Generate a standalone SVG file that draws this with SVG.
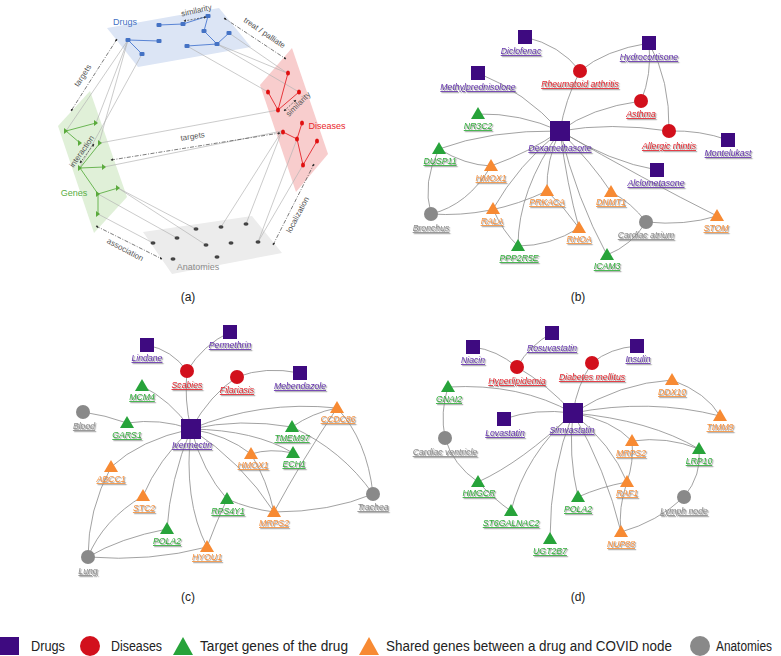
<svg xmlns="http://www.w3.org/2000/svg" width="781" height="656" viewBox="0 0 781 656">
<defs>
<style>
text{font-family:"Liberation Sans",Arial,sans-serif}
.lab{font-size:8.7px;font-style:italic;text-decoration:underline;text-anchor:middle;filter:url(#sh)}
.lp{fill:#6532ad}.lr{fill:#e2222c}.lg{fill:#2fae3a}.lo{fill:#f5913c}.la{fill:#8c8c8c}
.sq{fill:#3e0a80}.ci{fill:#d2101c}.tg{fill:#27a33a}.to{fill:#f78a33}.ga{fill:#898989}
.e{fill:none;stroke:#8a8a8a;stroke-width:0.8}
.gl{stroke:#b4b4b4;stroke-width:0.7;fill:none}
.rel{stroke:#444;stroke-width:0.7;fill:none;stroke-dasharray:4 1.5 1 1.5;marker-start:url(#ah);marker-end:url(#ah)}
.rels{stroke:#444;stroke-width:0.7;fill:none;stroke-dasharray:2 1.3;marker-start:url(#ah);marker-end:url(#ah)}
.rl{font-size:8px;fill:#555;text-anchor:middle}
.pl{font-size:9px;text-anchor:middle}
.cap{font-size:12px;fill:#222;text-anchor:middle}
.leg{font-size:14px;fill:#222}
.be{stroke:#4a78d0;stroke-width:0.9;fill:none}
.re{stroke:#e3262b;stroke-width:0.9;fill:none}
.ge{stroke:#5daf45;stroke-width:0.9;fill:none}
</style>
<marker id="ah" viewBox="0 0 6 6" refX="5" refY="3" markerWidth="4" markerHeight="4" orient="auto-start-reverse"><path d="M0,0L6,3L0,6z" fill="#333"/></marker>
<filter id="sh" x="-10%" y="-30%" width="130%" height="180%"><feDropShadow dx="1.2" dy="1.2" stdDeviation="0.4" flood-color="#777" flood-opacity="0.75"/></filter>
</defs>
<rect width="781" height="656" fill="#fff"/>

<!-- ===== Panel (a) ===== -->
<g id="panel-a">
<polygon points="107,28 219,8 251,47 138,67" fill="#dce5f5"/>
<polygon points="260,85 292,48 328,154 296,192" fill="#f8cdcd"/>
<polygon points="58,126 90,91 127,197 94,233" fill="#e0f0d8"/>
<polygon points="143,232 252,216 282,253 172,274" fill="#ececec"/>
<g id="a-cross-links">
<path class="gl" d="M128,40L66,131M128,40L96,123M128,40L99,143M142,54L80,167M229,33L287,73M217,44L287,73M217,44L299,92M187,46L268,92M278,110L100,143M282,131L104,167M118,188L196,229M118,188L206,245M98,194L177,238M98,214L153,243M282,131L221,227M282,131L246,224M297,139L258,242M303,165L258,242"/>
</g>
<g id="a-drugs">
<path class="be" d="M159,25L183,24L208,16L204,31L217,44L229,33M217,44L187,46M128,40L159,41M128,40L142,54"/>
<g fill="#4472c4">
<rect x="156.5" y="23" width="5" height="4" rx="1"/><rect x="180.5" y="22" width="5" height="4" rx="1"/><rect x="205.5" y="14" width="5" height="4" rx="1"/><rect x="201.5" y="29" width="5" height="4" rx="1"/><rect x="226.5" y="31" width="5" height="4" rx="1"/><rect x="214.5" y="42" width="5" height="4" rx="1"/><rect x="184.5" y="44" width="5" height="4" rx="1"/><rect x="125.5" y="38" width="5" height="4" rx="1"/><rect x="156.5" y="39" width="5" height="4" rx="1"/><rect x="139.5" y="52" width="5" height="4" rx="1"/>
</g>
<text class="pl" x="125" y="25" fill="#4472c4">Drugs</text>
</g>
<g id="a-diseases">
<path class="re" d="M288,73L278,110L268,92M278,110L299,92M283,132L297,139L302,123M297,139L303,165L317,141"/>
<g fill="#e01010">
<ellipse cx="288" cy="73" rx="2" ry="2.5"/><ellipse cx="268" cy="92" rx="2" ry="2.5"/><ellipse cx="299" cy="92" rx="2" ry="2.5"/><ellipse cx="278" cy="110" rx="2" ry="2.5"/><ellipse cx="302" cy="123" rx="2" ry="2.5"/><ellipse cx="283" cy="132" rx="2" ry="2.5"/><ellipse cx="297" cy="139" rx="2" ry="2.5"/><ellipse cx="317" cy="141" rx="2" ry="2.5"/><ellipse cx="303" cy="165" rx="2" ry="2.5"/>
</g>
<text class="pl" x="327" y="129" fill="#e8262a">Diseases</text>
</g>
<g id="a-genes">
<path class="ge" d="M66,131L96,123M66,131L80,143M80,168L100,143M80,168L104,167M80,168L98,194L118,188M98,194L98,214"/>
<g fill="#5aaa3c">
<path d="M64,128l4,3l-4,3z"/><path d="M94,120l4,3l-4,3z"/><path d="M78,140l4,3l-4,3z"/><path d="M98,140l4,3l-4,3z"/><path d="M78,165l4,3l-4,3z"/><path d="M102,164l4,3l-4,3z"/><path d="M96,191l4,3l-4,3z"/><path d="M116,185l4,3l-4,3z"/><path d="M96,211l4,3l-4,3z"/>
</g>
<text class="pl" x="74" y="196" fill="#5aae44">Genes</text>
</g>
<g id="a-anatomies" fill="#444">
<ellipse cx="196" cy="229" rx="2.5" ry="1.8"/><ellipse cx="221" cy="227" rx="2.5" ry="1.8"/><ellipse cx="246" cy="224" rx="2.5" ry="1.8"/><ellipse cx="153" cy="243" rx="2.5" ry="1.8"/><ellipse cx="177" cy="238" rx="2.5" ry="1.8"/><ellipse cx="206" cy="245" rx="2.5" ry="1.8"/><ellipse cx="231" cy="243" rx="2.5" ry="1.8"/><ellipse cx="258" cy="242" rx="2.5" ry="1.8"/><ellipse cx="173" cy="259" rx="2.5" ry="1.8"/><ellipse cx="217" cy="257" rx="2.5" ry="1.8"/>
<text class="pl" x="198" y="270" fill="#8a8a8a">Anatomies</text>
</g>
<g id="a-relations">
<path class="rels" d="M184,21L206,17"/>
<text class="rl" transform="translate(197,13) rotate(-13)">similarity</text>
<path class="rel" d="M224,18L286,59"/>
<text class="rl" transform="translate(263,35) rotate(34)">treat / palliate</text>
<path class="rel" d="M117,39L71,111"/>
<text class="rl" transform="translate(85,77) rotate(-57)">targets</text>
<path class="rels" d="M80,163L94,144"/>
<text class="rl" transform="translate(84,153) rotate(-55)">interaction</text>
<path class="rel" d="M111,160L280,133"/>
<text class="rl" transform="translate(193,139) rotate(-9)">targets</text>
<path class="rels" d="M284,111L296,100"/>
<text class="rl" transform="translate(300,106) rotate(-45)">similarity</text>
<path class="rel" d="M96,226L162,259"/>
<text class="rl" transform="translate(124,252) rotate(28)">association</text>
<path class="rel" d="M273,245L314,164"/>
<text class="rl" transform="translate(300,216) rotate(-62)">localization</text>
</g>
<text class="cap" x="188" y="301">(a)</text>
</g>

<!-- ===== Panel (b) connectors ===== -->
<g id="connectors-b">
<path class="e" d="M525,37Q560,45 580,71"/>
<path class="e" d="M649,43Q605,50 580,71"/>
<path class="e" d="M649,43Q652,75 641,101"/>
<path class="e" d="M649,43Q670,80 669,131"/>
<path class="e" d="M580,71Q565,100 560,131"/>
<path class="e" d="M478,73Q525,92 560,131"/>
<path class="e" d="M641,101Q590,108 560,131"/>
<path class="e" d="M669,131Q610,122 560,131"/>
<path class="e" d="M669,131Q700,130 728,140"/>
<path class="e" d="M478,114Q520,113 560,131"/>
<path class="e" d="M439,149Q490,130 560,131"/>
<path class="e" d="M439,149Q465,165 491,166"/>
<path class="e" d="M439,149Q422,182 431,214"/>
<path class="e" d="M491,166Q530,152 560,131"/>
<path class="e" d="M491,166Q468,205 431,214"/>
<path class="e" d="M560,131Q610,162 657,170"/>
<path class="e" d="M560,131Q645,180 717,216"/>
<path class="e" d="M560,131Q592,163 611,192"/>
<path class="e" d="M560,131Q546,160 547,191"/>
<path class="e" d="M560,131Q518,165 493,209"/>
<path class="e" d="M560,131Q518,190 518,246"/>
<path class="e" d="M560,131Q567,185 579,228"/>
<path class="e" d="M560,131Q577,200 607,255"/>
<path class="e" d="M431,214Q490,218 547,191"/>
<path class="e" d="M493,209Q503,232 518,246"/>
<path class="e" d="M547,191Q565,208 579,228"/>
<path class="e" d="M579,228Q550,246 518,246"/>
<path class="e" d="M611,192Q632,203 646,222"/>
<path class="e" d="M646,222Q685,226 717,216"/>
<path class="e" d="M646,222Q632,245 607,255"/>
</g>
<!-- ===== Panel (b) nodes ===== -->
<g id="b-diclofenac"><rect class="sq" x="518" y="30" width="14" height="14"/><text class="lab lp" x="521" y="54">Diclofenac</text></g>
<g id="b-hydrocortisone"><rect class="sq" x="642" y="36" width="14" height="14"/><text class="lab lp" x="649" y="60">Hydrocortisone</text></g>
<g id="b-rheumatoid"><circle class="ci" cx="580" cy="71" r="7"/><text class="lab lr" x="580" y="87">Rheumatoid arthritis</text></g>
<g id="b-methylprednisolone"><rect class="sq" x="471" y="66" width="14" height="14"/><text class="lab lp" x="478" y="90">Methylprednisolone</text></g>
<g id="b-asthma"><circle class="ci" cx="641" cy="101" r="7"/><text class="lab lr" x="641" y="117">Asthma</text></g>
<g id="b-nr3c2"><path class="tg" d="M478,107L485,119L471,119z"/><text class="lab lg" x="478" y="129">NR3C2</text></g>
<g id="b-dexamethasone"><rect class="sq" x="550" y="121" width="20" height="20"/><text class="lab lp" x="560" y="151">Dexamethasone</text></g>
<g id="b-allergic"><circle class="ci" cx="669" cy="131" r="7"/><text class="lab lr" x="669" y="149">Allergic rhintis</text></g>
<g id="b-montelukast"><rect class="sq" x="721" y="133" width="14" height="14"/><text class="lab lp" x="728" y="156">Montelukast</text></g>
<g id="b-dusp11"><path class="tg" d="M439,142L446,154L432,154z"/><text class="lab lg" x="440" y="164">DUSP11</text></g>
<g id="b-hmox1"><path class="to" d="M491,159L498,171L484,171z"/><text class="lab lo" x="491" y="181">HMOX1</text></g>
<g id="b-alclometasone"><rect class="sq" x="650" y="163" width="14" height="14"/><text class="lab lp" x="656" y="186">Alclometasone</text></g>
<g id="b-prkaca"><path class="to" d="M547,184L554,196L540,196z"/><text class="lab lo" x="547" y="205">PRKACA</text></g>
<g id="b-dnmt1"><path class="to" d="M611,185L618,197L604,197z"/><text class="lab lo" x="611" y="205">DNMT1</text></g>
<g id="b-rala"><path class="to" d="M493,202L500,214L486,214z"/><text class="lab lo" x="492" y="224">RALA</text></g>
<g id="b-bronchus"><circle class="ga" cx="431" cy="214" r="7"/><text class="lab la" x="431" y="231">Bronchus</text></g>
<g id="b-stom"><path class="to" d="M717,209L724,221L710,221z"/><text class="lab lo" x="716" y="231">STOM</text></g>
<g id="b-cardiac-atrium"><circle class="ga" cx="646" cy="222" r="7"/><text class="lab la" x="646" y="238">Cardiac atrium</text></g>
<g id="b-rhoa"><path class="to" d="M579,221L586,233L572,233z"/><text class="lab lo" x="579" y="242">RHOA</text></g>
<g id="b-ppp2r5e"><path class="tg" d="M518,239L525,251L511,251z"/><text class="lab lg" x="519" y="261">PPP2R5E</text></g>
<g id="b-icam3"><path class="tg" d="M607,248L614,260L600,260z"/><text class="lab lg" x="607" y="269">ICAM3</text></g>
<text class="cap" x="578" y="301">(b)</text>

<!-- ===== Panel (c) connectors ===== -->
<g id="connectors-c">
<path class="e" d="M147,345Q172,350 187,371"/>
<path class="e" d="M230,332Q203,345 187,371"/>
<path class="e" d="M187,371Q184,400 191,429"/>
<path class="e" d="M237,377Q210,395 191,429"/>
<path class="e" d="M237,377Q265,366 300,373"/>
<path class="e" d="M142,386Q170,400 191,429"/>
<path class="e" d="M83,412Q105,415 127,423"/>
<path class="e" d="M127,423Q160,418 191,429"/>
<path class="e" d="M191,429Q260,400 337,408"/>
<path class="e" d="M191,429Q240,418 292,427"/>
<path class="e" d="M191,429Q255,430 293,453"/>
<path class="e" d="M191,429Q227,435 251,454"/>
<path class="e" d="M191,429Q242,462 274,512"/>
<path class="e" d="M191,429Q203,472 227,499"/>
<path class="e" d="M191,429Q183,500 207,547"/>
<path class="e" d="M191,429Q170,480 167,529"/>
<path class="e" d="M191,429Q158,460 143,496"/>
<path class="e" d="M191,429Q140,440 111,467"/>
<path class="e" d="M292,427Q312,413 337,408"/>
<path class="e" d="M292,427Q342,450 373,494"/>
<path class="e" d="M337,408Q367,440 373,494"/>
<path class="e" d="M337,408Q302,460 274,512"/>
<path class="e" d="M251,454Q270,448 293,453"/>
<path class="e" d="M251,454Q267,480 274,512"/>
<path class="e" d="M227,499Q250,509 274,512"/>
<path class="e" d="M227,499Q215,525 207,547"/>
<path class="e" d="M274,512Q330,512 373,494"/>
<path class="e" d="M111,467Q88,510 88,557"/>
<path class="e" d="M143,496Q103,520 88,557"/>
<path class="e" d="M167,529Q120,538 88,557"/>
<path class="e" d="M207,547Q150,562 88,557"/>
</g>
<!-- ===== Panel (c) nodes ===== -->
<g id="c-lindane"><rect class="sq" x="140" y="338" width="14" height="14"/><text class="lab lp" x="147" y="361">Lindane</text></g>
<g id="c-permethrin"><rect class="sq" x="223" y="325" width="14" height="14"/><text class="lab lp" x="230" y="348">Permethrin</text></g>
<g id="c-scabies"><circle class="ci" cx="187" cy="371" r="7"/><text class="lab lr" x="187" y="388">Scabies</text></g>
<g id="c-filariasis"><circle class="ci" cx="237" cy="377" r="7"/><text class="lab lr" x="237" y="393">Filariasis</text></g>
<g id="c-mebendazole"><rect class="sq" x="293" y="366" width="14" height="14"/><text class="lab lp" x="300" y="389">Mebendazole</text></g>
<g id="c-mcm4"><path class="tg" d="M142,379L149,391L135,391z"/><text class="lab lg" x="142" y="400">MCM4</text></g>
<g id="c-blood"><circle class="ga" cx="83" cy="412" r="7"/><text class="lab la" x="84" y="429">Blood</text></g>
<g id="c-gars1"><path class="tg" d="M127,416L134,428L120,428z"/><text class="lab lg" x="127" y="438">GARS1</text></g>
<g id="c-ivermectin"><rect class="sq" x="181" y="419" width="20" height="20"/><text class="lab lp" x="192" y="448">Ivermectin</text></g>
<g id="c-ccdc86"><path class="to" d="M337,401L344,413L330,413z"/><text class="lab lo" x="338" y="422">CCDC86</text></g>
<g id="c-tmem97"><path class="tg" d="M292,420L299,432L285,432z"/><text class="lab lg" x="292" y="441">TMEM97</text></g>
<g id="c-hmox1"><path class="to" d="M251,447L258,459L244,459z"/><text class="lab lo" x="253" y="468">HMOX1</text></g>
<g id="c-ech1"><path class="tg" d="M293,446L300,458L286,458z"/><text class="lab lg" x="294" y="467">ECH1</text></g>
<g id="c-abcc1"><path class="to" d="M111,460L118,472L104,472z"/><text class="lab lo" x="111" y="482">ABCC1</text></g>
<g id="c-trachea"><circle class="ga" cx="373" cy="494" r="7"/><text class="lab la" x="373" y="510">Trachea</text></g>
<g id="c-stc2"><path class="to" d="M143,489L150,501L136,501z"/><text class="lab lo" x="144" y="511">STC2</text></g>
<g id="c-rps4y1"><path class="tg" d="M227,492L234,504L220,504z"/><text class="lab lg" x="228" y="514">RPS4Y1</text></g>
<g id="c-mrps2"><path class="to" d="M274,505L281,517L267,517z"/><text class="lab lo" x="274" y="526">MRPS2</text></g>
<g id="c-pola2"><path class="tg" d="M167,522L174,534L160,534z"/><text class="lab lg" x="167" y="544">POLA2</text></g>
<g id="c-hyou1"><path class="to" d="M207,540L214,552L200,552z"/><text class="lab lo" x="207" y="560">HYOU1</text></g>
<g id="c-lung"><circle class="ga" cx="88" cy="557" r="7"/><text class="lab la" x="88" y="574">Lung</text></g>
<text class="cap" x="188" y="601">(c)</text>

<!-- ===== Panel (d) connectors ===== -->
<g id="connectors-d">
<path class="e" d="M473,347Q497,350 517,367"/>
<path class="e" d="M552,333Q530,345 517,367"/>
<path class="e" d="M517,367Q548,385 573,413"/>
<path class="e" d="M637,346Q610,348 592,363"/>
<path class="e" d="M592,363Q577,385 573,413"/>
<path class="e" d="M448,387Q520,383 573,413"/>
<path class="e" d="M448,387Q440,412 445,438"/>
<path class="e" d="M504,419Q535,408 573,413"/>
<path class="e" d="M573,413Q620,383 672,380"/>
<path class="e" d="M573,413Q650,398 720,416"/>
<path class="e" d="M672,380Q707,393 720,416"/>
<path class="e" d="M573,413Q650,420 699,449"/>
<path class="e" d="M573,413Q612,420 632,441"/>
<path class="e" d="M632,441Q667,436 699,449"/>
<path class="e" d="M573,413Q612,445 627,482"/>
<path class="e" d="M573,413Q606,470 621,532"/>
<path class="e" d="M573,413Q568,455 578,497"/>
<path class="e" d="M573,413Q550,470 550,539"/>
<path class="e" d="M573,413Q525,455 511,511"/>
<path class="e" d="M573,413Q522,462 478,482"/>
<path class="e" d="M445,438Q453,465 478,482"/>
<path class="e" d="M478,482Q495,500 511,511"/>
<path class="e" d="M632,441Q634,462 627,482"/>
<path class="e" d="M627,482Q600,487 578,497"/>
<path class="e" d="M627,482Q618,508 621,532"/>
<path class="e" d="M621,532Q657,522 684,497"/>
<path class="e" d="M684,497Q702,475 699,449"/>
</g>
<!-- ===== Panel (d) nodes ===== -->
<g id="d-rosuvastatin"><rect class="sq" x="545" y="326" width="14" height="14"/><text class="lab lp" x="552" y="351">Rosuvastatin</text></g>
<g id="d-niacin"><rect class="sq" x="466" y="340" width="14" height="14"/><text class="lab lp" x="473" y="363">Niacin</text></g>
<g id="d-insulin"><rect class="sq" x="630" y="339" width="14" height="14"/><text class="lab lp" x="638" y="362">Insulin</text></g>
<g id="d-hyperlipidemia"><circle class="ci" cx="517" cy="367" r="7"/><text class="lab lr" x="517" y="384">Hyperlipidemia</text></g>
<g id="d-diabetes"><circle class="ci" cx="592" cy="363" r="7"/><text class="lab lr" x="592" y="380">Diabetes mellitus</text></g>
<g id="d-gnai2"><path class="tg" d="M448,380L455,392L441,392z"/><text class="lab lg" x="449" y="402">GNAI2</text></g>
<g id="d-ddx10"><path class="to" d="M672,373L679,385L665,385z"/><text class="lab lo" x="672" y="395">DDX10</text></g>
<g id="d-simvastatin"><rect class="sq" x="563" y="403" width="20" height="20"/><text class="lab lp" x="572" y="433">Simvastatin</text></g>
<g id="d-lovastatin"><rect class="sq" x="497" y="412" width="14" height="14"/><text class="lab lp" x="505" y="436">Lovastatin</text></g>
<g id="d-timm9"><path class="to" d="M720,409L727,421L713,421z"/><text class="lab lo" x="720" y="430">TIMM9</text></g>
<g id="d-cardiac-ventricle"><circle class="ga" cx="445" cy="438" r="7"/><text class="lab la" x="445" y="455">Cardiac ventricle</text></g>
<g id="d-mrps2"><path class="to" d="M632,434L639,446L625,446z"/><text class="lab lo" x="631" y="456">MRPS2</text></g>
<g id="d-lrp10"><path class="tg" d="M699,442L706,454L692,454z"/><text class="lab lg" x="699" y="464">LRP10</text></g>
<g id="d-hmgcr"><path class="tg" d="M478,475L485,487L471,487z"/><text class="lab lg" x="479" y="496">HMGCR</text></g>
<g id="d-raf1"><path class="to" d="M627,475L634,487L620,487z"/><text class="lab lo" x="627" y="496">RAF1</text></g>
<g id="d-lymph-node"><circle class="ga" cx="684" cy="497" r="7"/><text class="lab la" x="684" y="514">Lymph node</text></g>
<g id="d-pola2"><path class="tg" d="M578,490L585,502L571,502z"/><text class="lab lg" x="578" y="512">POLA2</text></g>
<g id="d-st6galnac2"><path class="tg" d="M511,504L518,516L504,516z"/><text class="lab lg" x="511" y="526">ST6GALNAC2</text></g>
<g id="d-nup88"><path class="to" d="M621,525L628,537L614,537z"/><text class="lab lo" x="621" y="547">NUP88</text></g>
<g id="d-ugt2b7"><path class="tg" d="M550,532L557,544L543,544z"/><text class="lab lg" x="550" y="554">UGT2B7</text></g>
<text class="cap" x="578" y="601">(d)</text>

<!-- ===== Legend ===== -->
<g id="legend">
<rect class="sq" x="0" y="637" width="19" height="18"/>
<text class="leg" x="31" y="651" textLength="34" lengthAdjust="spacingAndGlyphs">Drugs</text>
<circle class="ci" cx="90" cy="646" r="10"/>
<text class="leg" x="111" y="651" textLength="51" lengthAdjust="spacingAndGlyphs">Diseases</text>
<path class="tg" d="M183,637L193,655L173,655z"/>
<text class="leg" x="200" y="651" textLength="148" lengthAdjust="spacingAndGlyphs">Target genes of the drug</text>
<path class="to" d="M369,637L379,655L359,655z"/>
<text class="leg" x="386" y="651" textLength="286" lengthAdjust="spacingAndGlyphs">Shared genes between a drug and COVID node</text>
<circle class="ga" cx="700" cy="646" r="10"/>
<text class="leg" x="716" y="651" textLength="56" lengthAdjust="spacingAndGlyphs">Anatomies</text>
</g>
</svg>
